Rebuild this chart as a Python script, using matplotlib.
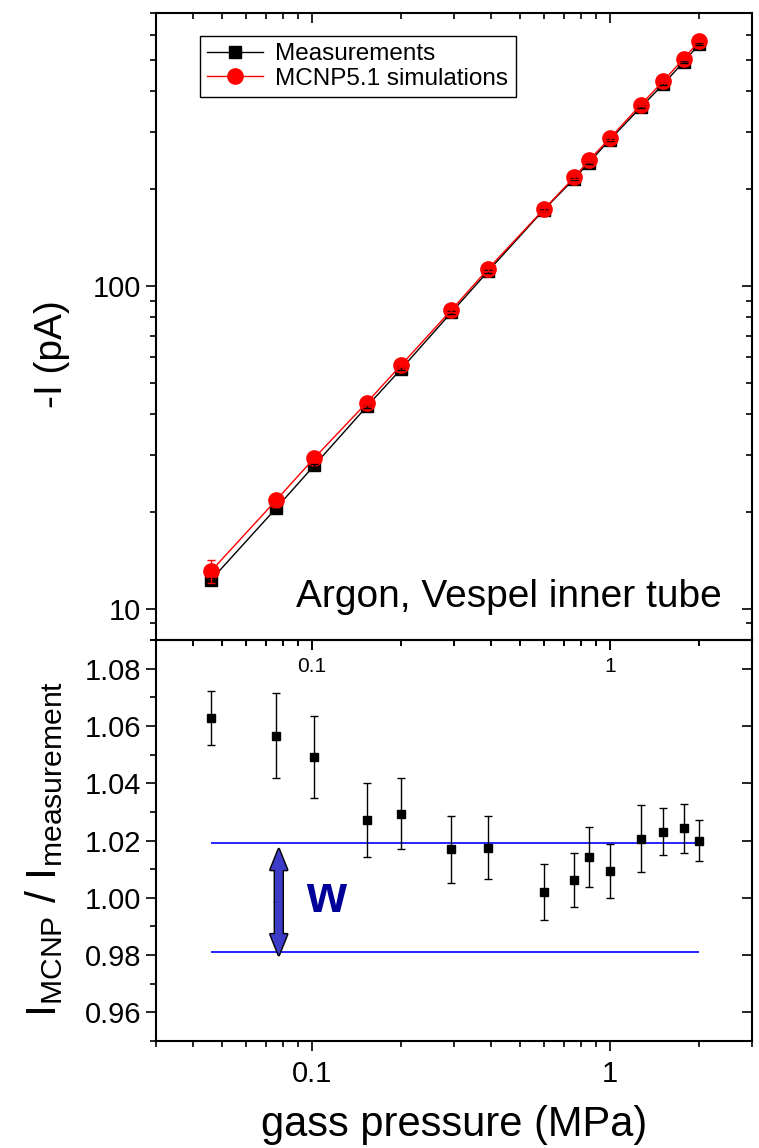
import matplotlib
matplotlib.use('Agg')
import matplotlib.pyplot as plt
from matplotlib import font_manager
from matplotlib.ticker import MultipleLocator, FuncFormatter, NullFormatter
from matplotlib.patches import FancyArrowPatch

plt.rcParams['font.family'] = ['Liberation Sans', 'DejaVu Sans']
installed = {f.name for f in font_manager.fontManager.ttflist}
narrow = 'Liberation Sans Narrow' if 'Liberation Sans Narrow' in installed else 'Liberation Sans'
plt.rcParams['mathtext.fontset'] = 'custom'
plt.rcParams['mathtext.rm'] = 'Liberation Sans'
plt.rcParams['mathtext.it'] = 'Liberation Sans:italic'
plt.rcParams['mathtext.sf'] = narrow
plt.rcParams['mathtext.default'] = 'regular'

# gas pressure (MPa)
pressure = [0.046, 0.076, 0.102, 0.153, 0.2, 0.294, 0.39, 0.6, 0.76, 0.85, 1.0, 1.27, 1.51, 1.77, 2.0]
# -I (pA)
meas = [12.3, 20.5, 27.8, 42.3, 55.4, 82.7, 110.8, 171.8, 214.6, 240.5, 283.3, 357, 420.6, 494, 562]
meas_err = [0.15, 0.2, 0.3, 0.4, 0.5, 0.7, 0.9, 1.3, 1.6, 1.8, 2.1, 2.6, 3.0, 3.5, 4.0]
sim = [13.1, 21.7, 29.3, 43.5, 57.0, 84.1, 112.7, 172.4, 216.8, 244.5, 286.2, 363.8, 429.8, 505.8, 573.4]
sim_err = [1.1, 1.0, 0.9, 0.9, 1.0, 1.2, 1.5, 2.0, 2.4, 2.7, 3.2, 4.0, 4.7, 5.5, 6.2]
# I_MCNP / I_measurement
ratio = [1.0628, 1.0566, 1.0492, 1.0271, 1.0294, 1.0169, 1.0174, 1.0020, 1.0063,
         1.0143, 1.0093, 1.0207, 1.0231, 1.0242, 1.0200]
ratio_err = [0.0095, 0.0149, 0.0143, 0.0130, 0.0125, 0.0116, 0.0110, 0.0098, 0.0094,
             0.0105, 0.0094, 0.0116, 0.0083, 0.0085, 0.0073]
band_lo, band_hi = 0.981, 1.019
arrow_x, arrow_lo, arrow_hi = 0.0775, 0.980, 1.017

fig = plt.figure(figsize=(7.59, 11.48), dpi=100)
ax1 = fig.add_axes([0.2055, 0.4425, 0.7852, 0.5462])
ax2 = fig.add_axes([0.2055, 0.0932, 0.7852, 0.3493])
ax2.patch.set_facecolor('none')

fmt_g = FuncFormatter(lambda v, pos: '%g' % v)


def style_axes(ax, xlabsize):
    for s in ax.spines.values():
        s.set_linewidth(1.5)
    ax.tick_params(which='both', direction='out', width=1.2, top=False, right=False)
    ax.tick_params(which='major', length=7)
    ax.tick_params(which='minor', length=4)
    ax.tick_params(axis='y', labelsize=21)
    ax.tick_params(axis='x', labelsize=xlabsize)
    top = ax.secondary_xaxis('top')
    right = ax.secondary_yaxis('right')
    for sec in (top, right):
        sec.tick_params(which='both', direction='in', width=1.2)
        sec.tick_params(which='major', length=7)
        sec.tick_params(which='minor', length=4)
        sec.spines[:].set_visible(False)
    top.set_xticklabels([])
    top.xaxis.set_minor_formatter(NullFormatter())
    right.set_yticklabels([])
    right.yaxis.set_minor_formatter(NullFormatter())
    return top, right


# ---- top panel ----
ax1.set_xscale('log')
ax1.set_yscale('log')
ax1.set_xlim(0.03, 3)
ax1.set_ylim(8, 700)
ax1.plot(pressure, meas, color='k', lw=1, marker='s', ms=8.5, label='Measurements', zorder=3)
ax1.plot(pressure, sim, color='red', lw=1, marker='o', ms=11, label='MCNP5.1 simulations', zorder=4)
ax1.errorbar(pressure, meas, yerr=meas_err, fmt='none', ecolor='k', elinewidth=1, capsize=3, zorder=5)
ax1.errorbar(pressure, sim, yerr=sim_err, fmt='none', ecolor='red', elinewidth=1, capsize=3, zorder=5)
ax1.xaxis.set_major_formatter(fmt_g)
ax1.xaxis.set_minor_formatter(NullFormatter())
ax1.yaxis.set_major_formatter(fmt_g)
ax1.yaxis.set_minor_formatter(NullFormatter())
style_axes(ax1, 15)
ax1.tick_params(axis='x', pad=5)
ax1.set_ylabel('-I (pA)', fontsize=28)
ax1.yaxis.set_label_coords(-0.145, 0.456)
leg = ax1.legend(loc='upper left', bbox_to_anchor=(0.074, 0.963), borderaxespad=0, fontsize=17.5,
                 handlelength=2.3, labelspacing=0.1, handletextpad=0.5, borderpad=0.3,
                 fancybox=False, framealpha=1, edgecolor='k')
leg.get_frame().set_linewidth(1)
ax1.text(0.950, 0.0526, 'Argon, Vespel inner tube', transform=ax1.transAxes,
         ha='right', va='baseline', fontsize=28)

# ---- bottom panel ----
ax2.set_xscale('log')
ax2.set_xlim(0.03, 3)
ax2.set_ylim(0.95, 1.09)
ax2.errorbar(pressure, ratio, yerr=ratio_err, fmt='s', color='k', ms=5.5,
             elinewidth=1, capsize=3, capthick=1, zorder=4)
ax2.hlines([band_hi, band_lo], pressure[0], pressure[-1], colors='blue', lw=1.2, zorder=2)

mid = (arrow_lo + arrow_hi) / 2
style = 'simple,head_length=15,head_width=12,tail_width=5.5'
for end in (arrow_hi, arrow_lo):
    ax2.add_patch(FancyArrowPatch((arrow_x, mid), (arrow_x, end), arrowstyle=style,
                                  mutation_scale=1, shrinkA=0, shrinkB=0,
                                  fc='#3c3cc8', ec='k', lw=2, zorder=5))
for end in (arrow_hi, arrow_lo):
    ax2.add_patch(FancyArrowPatch((arrow_x, mid), (arrow_x, end), arrowstyle=style,
                                  mutation_scale=1, shrinkA=0, shrinkB=0,
                                  fc='#3c3cc8', ec='none', lw=0, zorder=6))
ax2.text(0.112, 0.9952, 'w', fontsize=37, fontweight='bold', color='#000099',
         ha='center', va='baseline')

ax2.yaxis.set_major_locator(MultipleLocator(0.02))
ax2.yaxis.set_minor_locator(MultipleLocator(0.01))
ax2.yaxis.set_major_formatter(FuncFormatter(lambda v, pos: '%.2f' % v))
ax2.xaxis.set_major_formatter(fmt_g)
ax2.xaxis.set_minor_formatter(NullFormatter())
style_axes(ax2, 21)
ax2.tick_params(axis='x', pad=7)
ax2.set_ylabel(r'$I_{\mathsf{MCNP}}\ /\ I_{\mathsf{measurement}}$', fontsize=31)
ax2.yaxis.set_label_coords(-0.153, 0.479)
ax2.set_xlabel('gass pressure (MPa)', fontsize=30)
ax2.xaxis.set_label_coords(0.5, -0.16)

fig.savefig('out.png', dpi=100)
